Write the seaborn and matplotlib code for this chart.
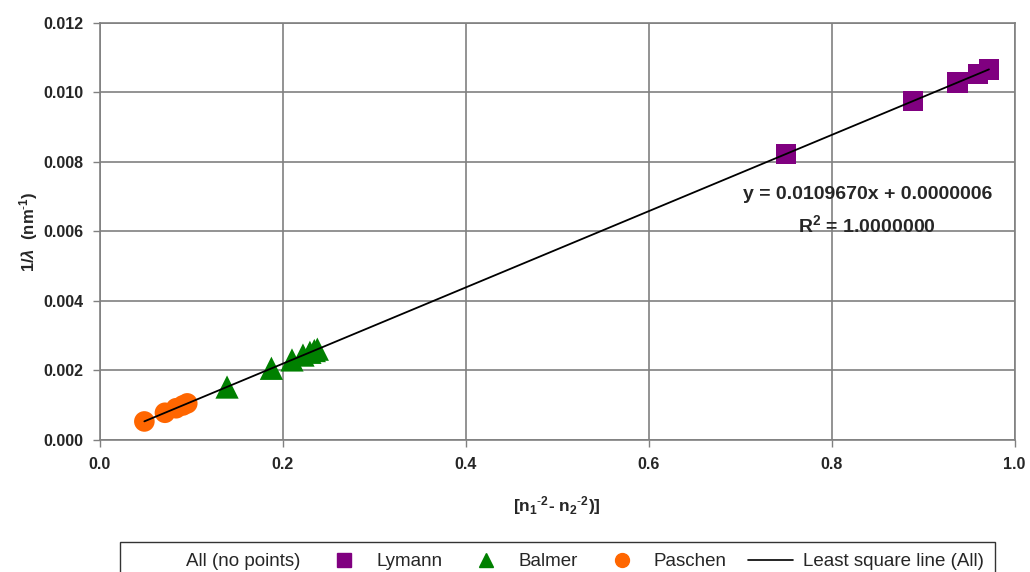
import numpy as np
import pandas as pd
import matplotlib
matplotlib.use("Agg")
import matplotlib.pyplot as plt
import seaborn as sns
from matplotlib.lines import Line2D

# valeurs
lyman_x = [0.750, 0.889, 0.9375, 0.960, 0.972]
lyman_y = [0.00823, 0.00975, 0.01028, 0.01053, 0.01066]
balmer_x = [0.139, 0.1875, 0.210, 0.222, 0.2296, 0.2344, 0.2377]
balmer_y = [0.00152, 0.00206, 0.00230, 0.00244, 0.00252, 0.00257, 0.00261]
paschen_x = [0.0486, 0.0711, 0.0833, 0.0907, 0.0955]
paschen_y = [0.00053, 0.00078, 0.00091, 0.00099, 0.00105]

series_names = ["Lymann", "Balmer", "Paschen"]
x_ticks = [0.0, 0.2, 0.4, 0.6, 0.8, 1.0]
y_ticks = [0.000, 0.002, 0.004, 0.006, 0.008, 0.010, 0.012]
equation = "y = 0.0109670x + 0.0000006"
r_carre = r"R$^\mathbf{2}$ = 1.0000000"


def main():
    df = pd.DataFrame({
        "x": lyman_x + balmer_x + paschen_x,
        "y": lyman_y + balmer_y + paschen_y,
        "serie": (["Lymann"] * len(lyman_x) + ["Balmer"] * len(balmer_x)
                  + ["Paschen"] * len(paschen_x)),
    })

    sns.set_theme(style="white")
    plt.rcParams["font.family"] = ["Liberation Sans", "DejaVu Sans"]
    plt.rcParams["mathtext.fontset"] = "custom"
    plt.rcParams["mathtext.rm"] = "Liberation Sans"
    plt.rcParams["mathtext.bf"] = "Liberation Sans:bold"
    plt.rcParams["mathtext.it"] = "Liberation Sans:italic:bold"

    fig = plt.figure(figsize=(10.3, 5.72), dpi=100)
    ax = fig.add_axes([0.097, 0.231, 0.888, 0.729])

    couleurs = {"Lymann": "#800080", "Balmer": "#008000", "Paschen": "#FF6600"}
    marqueurs = {"Lymann": "s", "Balmer": "^", "Paschen": "o"}
    tailles = {"Lymann": 220, "Balmer": 280, "Paschen": 220}

    # droite des moindres carrés sur tous les points
    a, b = np.polyfit(df["x"], df["y"], 1)
    xs = np.array([df["x"].min(), df["x"].max()])
    sns.lineplot(x=xs, y=a * xs + b, color="black", lw=1.3, ax=ax, zorder=3)

    sns.scatterplot(data=df, x="x", y="y", hue="serie", style="serie",
                    size="serie", sizes=tailles,
                    palette=couleurs, markers=marqueurs,
                    edgecolor="none", legend=False, ax=ax, zorder=2)

    ax.set_xlim(0, 1.0)
    ax.set_ylim(0, 0.012)
    ax.set_xticks(x_ticks)
    ax.set_yticks(y_ticks)
    ax.set_xticklabels([f"{v:.1f}" for v in x_ticks], fontweight="bold", fontsize=11.5)
    ax.set_yticklabels([f"{v:.3f}" for v in y_ticks], fontweight="bold", fontsize=11.5)
    ax.grid(True, color="#808080", lw=1.2)
    ax.set_axisbelow(True)
    for s in ax.spines.values():
        s.set_color("#808080")
        s.set_linewidth(1.2)
    ax.tick_params(axis="both", direction="out", length=5, width=1,
                   color="#808080", left=True, bottom=True, pad=7)

    ax.set_xlabel(r"[n$_\mathbf{1}$$^{\text{-}\mathbf{2}}$- n$_\mathbf{2}$$^{\text{-}\mathbf{2}}$)]",
                  fontweight="bold", fontsize=12.5)
    ax.set_ylabel(r"1/$\lambda$  (nm$^{\text{-}\mathbf{1}}$)", fontweight="bold",
                  fontsize=12)
    ax.xaxis.set_label_coords(0.5, -0.13)
    ax.yaxis.set_label_coords(-0.066, 0.5)

    ax.text(0.839, 0.00705, equation, ha="center", va="center",
            fontweight="bold", fontsize=14)
    ax.text(0.839, 0.00619, r_carre, ha="center", va="center",
            fontweight="bold", fontsize=14)

    poignees = [Line2D([], [], ls="none", marker=None)]
    for nom in series_names:
        poignees.append(Line2D([], [], ls="none", marker=marqueurs[nom],
                               color=couleurs[nom], markersize=10))
    poignees.append(Line2D([], [], color="black", lw=1.2))
    etiquettes = ["All (no points)"] + series_names + ["Least square line (All)"]
    leg = fig.legend(poignees, etiquettes, loc="upper left", ncol=5,
                     bbox_to_anchor=(0.1165, 0.0524, 0.8495, 0.0),
                     mode="expand", borderaxespad=0.0, frameon=True,
                     fancybox=False, fontsize=13.5, handlelength=2.4,
                     borderpad=0.6, columnspacing=1.0, handletextpad=0.5)
    leg.get_frame().set_edgecolor("black")
    leg.get_frame().set_linewidth(1.0)

    fig.savefig("out.png", dpi=100, facecolor="white")


if __name__ == "__main__":
    main()
